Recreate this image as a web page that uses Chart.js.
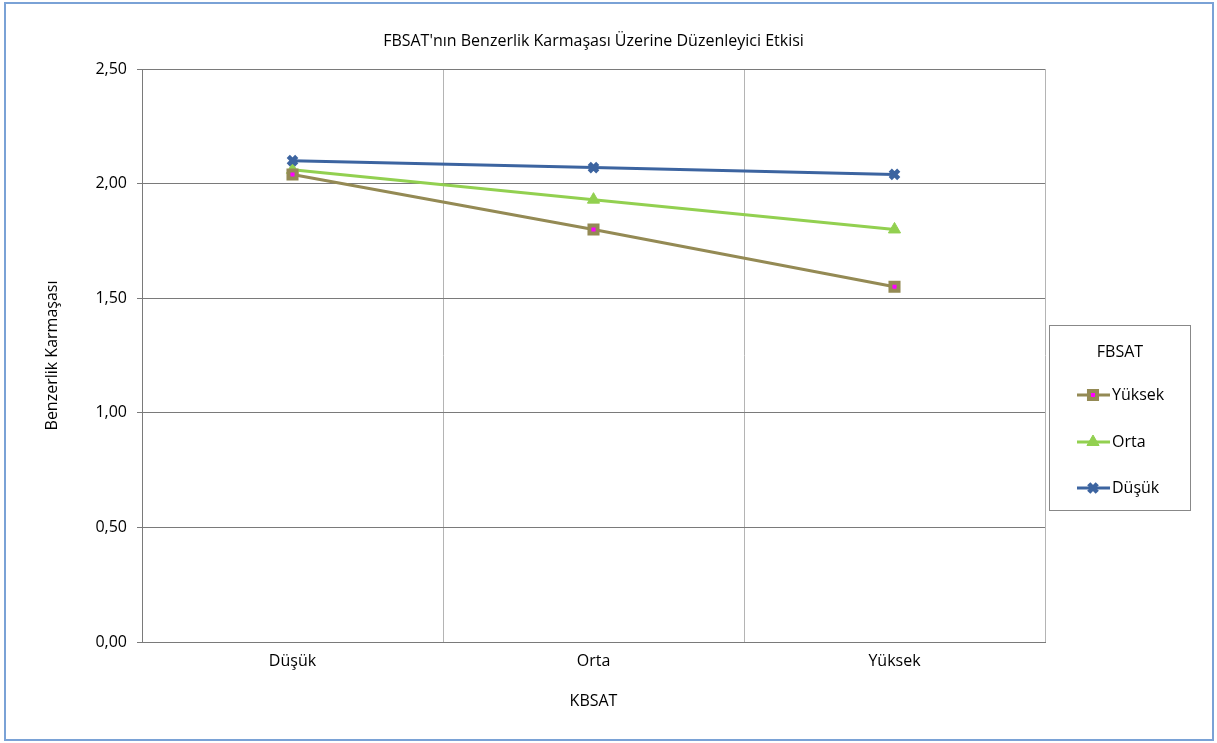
<!DOCTYPE html>
<html>
<head>
<meta charset="utf-8">
<script src="https://cdn.jsdelivr.net/npm/chart.js@4/dist/chart.umd.min.js"></script>
<style>
    body { margin: 0; background: #fff; }
    #contenitore { width: 1217px; height: 743px; }
</style>
</head>
<body>
<div id="contenitore"><canvas id="grafico" width="1217" height="743"></canvas></div>
<script>
// categorie KBSAT e valori medi per livello FBSAT
var categorie = ['Düşük', 'Orta', 'Yüksek'];
var serieNomi = ['Yüksek', 'Orta', 'Düşük'];
var valoriYuksek = [2.04, 1.80, 1.55];
var valoriOrta = [2.06, 1.93, 1.80];
var valoriDusuk = [2.10, 2.07, 2.04];
var asseY = [0, 0.5, 1, 1.5, 2, 2.5];

var font = '"Open Sans", Lato, sans-serif';

// sfondo bianco e cornice azzurra esterna
var cornice = {
    id: 'cornice',
    beforeDraw: function(chart) {
        var ctx = chart.ctx;
        ctx.save();
        ctx.fillStyle = '#fff';
        ctx.fillRect(0, 0, chart.width, chart.height);
        ctx.strokeStyle = '#7aa2d6';
        ctx.lineWidth = 2;
        ctx.strokeRect(5, 3, 1208, 737);
        ctx.restore();
    }
};

// legenda con riquadro, titolo e linea + marcatore
var legenda = {
    id: 'legenda',
    afterDraw: function(chart) {
        var ctx = chart.ctx;
        ctx.save();
        ctx.strokeStyle = '#888';
        ctx.lineWidth = 1;
        ctx.strokeRect(1049.5, 325.5, 141, 185);
        ctx.fillStyle = '#000';
        ctx.font = '16px ' + font;
        ctx.textAlign = 'center';
        ctx.textBaseline = 'middle';
        ctx.fillText('FBSAT', 1120, 352);
        ctx.textAlign = 'left';
        var righe = [395, 442, 488];
        chart.data.datasets.forEach(function(ds, i) {
            var y = righe[i];
            ctx.strokeStyle = ds.borderColor;
            ctx.lineWidth = ds.borderWidth;
            ctx.beginPath();
            ctx.moveTo(1077, y);
            ctx.lineTo(1110, y);
            ctx.stroke();
            ctx.fillStyle = ds.pointBackgroundColor;
            ctx.strokeStyle = ds.pointBorderColor;
            ctx.lineWidth = ds.pointBorderWidth;
            Chart.helpers.drawPoint(ctx, {pointStyle: ds.pointStyle, radius: ds.pointRadius, borderWidth: ds.pointBorderWidth}, 1093, y);
            ctx.fillStyle = '#000';
            ctx.fillText(ds.label, 1112, y);
        });
        ctx.restore();
    }
};

var ctx = document.getElementById('grafico');
var chart = new Chart(ctx, {
    type: 'line',
    data: {
        labels: categorie,
        datasets: [{
            label: serieNomi[0],
            data: valoriYuksek,
            borderColor: '#948a54',
            borderWidth: 3,
            pointStyle: 'rect',
            pointRadius: 5.7,
            pointBackgroundColor: '#ff00ff',
            pointBorderColor: '#948a54',
            pointBorderWidth: 4,
            order: 1
        }, {
            label: serieNomi[1],
            data: valoriOrta,
            borderColor: '#92d050',
            borderWidth: 3,
            pointStyle: 'triangle',
            pointRadius: 7,
            pointBackgroundColor: '#92d050',
            pointBorderColor: '#92d050',
            pointBorderWidth: 1,
            order: 2
        }, {
            label: serieNomi[2],
            data: valoriDusuk,
            borderColor: '#3c64a0',
            borderWidth: 3,
            pointStyle: 'crossRot',
            pointRadius: 6,
            pointBackgroundColor: '#3c64a0',
            pointBorderColor: '#3c64a0',
            pointBorderWidth: 4.5,
            order: 0
        }]
    },
    options: {
        responsive: false,
        animation: false,
        layout: { padding: { left: 0, right: 172, top: 0, bottom: 0 } },
        plugins: {
            legend: { display: false },
            tooltip: { enabled: false },
            title: {
                display: true,
                fullSize: false,
                text: "FBSAT'nın Benzerlik Karmaşası Üzerine Düzenleyici Etkisi",
                color: '#000',
                font: { family: font, size: 16, weight: 'normal' },
                padding: { top: 32, bottom: 17.8 }
            }
        },
        scales: {
            x: {
                offset: true,
                grid: { offset: true, color: '#b4b4b4', drawTicks: false },
                border: { color: '#7a7a7a' },
                ticks: { color: '#000', padding: 10, font: { family: font, size: 16 } },
                title: {
                    display: true, text: 'KBSAT', color: '#000',
                    font: { family: font, size: 16 },
                    padding: { top: 0, bottom: 31.5 }
                },
                afterFit: function(scale) { scale.height = 101; }
            },
            y: {
                min: asseY[0],
                max: asseY[asseY.length - 1],
                afterBuildTicks: function(scale) {
                    scale.ticks = asseY.map(function(v) { return { value: v }; });
                },
                grid: { color: '#7a7a7a', tickLength: 5 },
                border: { color: '#7a7a7a' },
                ticks: {
                    color: '#000', padding: 10,
                    font: { family: font, size: 16 },
                    callback: function(v) { return v.toFixed(2).replace('.', ','); }
                },
                title: {
                    display: true, text: 'Benzerlik Karmaşası', color: '#000',
                    font: { family: font, size: 16 },
                    padding: { top: 42.5, bottom: 0 }
                },
                afterFit: function(scale) { scale.width = 142; }
            }
        }
    },
    plugins: [cornice, legenda]
});
</script>
</body>
</html>
